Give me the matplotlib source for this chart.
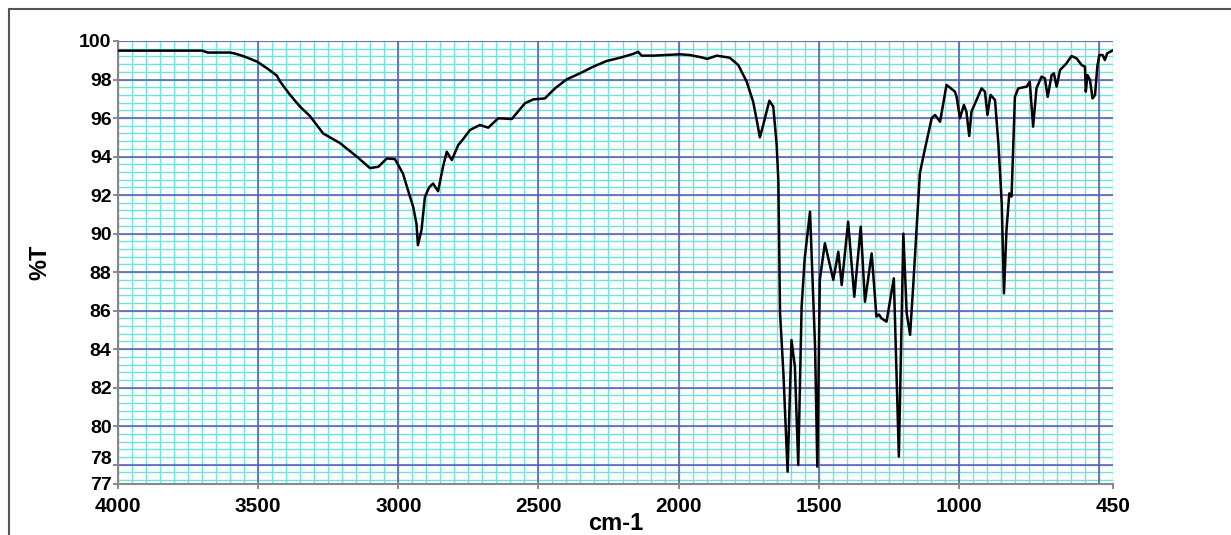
import matplotlib
matplotlib.use("Agg")
import matplotlib.pyplot as plt
from matplotlib.lines import Line2D
from matplotlib.transforms import ScaledTranslation
import numpy as np

plt.rcParams['font.family'] = ['Liberation Sans', 'DejaVu Sans']

# wavenumber (cm-1) and transmittance (%T)
wavenumber = [4000, 3900, 3800, 3700, 3690, 3680, 3600, 3583, 3550, 3504,
              3470, 3433, 3422, 3386, 3351, 3315, 3268, 3208, 3148, 3101,
              3071, 3041, 3012, 2994, 2983, 2960, 2947, 2935, 2930, 2917,
              2905, 2890, 2876, 2858, 2840, 2827, 2809, 2786, 2769, 2744,
              2709, 2679, 2643, 2595, 2548, 2518, 2477, 2441, 2399, 2352,
              2304, 2257, 2209, 2162, 2144, 2132, 2090, 1995, 1959, 1918,
              1898, 1864, 1817, 1787, 1757, 1734, 1720, 1710, 1698, 1676,
              1662, 1650, 1644, 1638, 1626, 1611, 1597, 1585, 1573, 1561,
              1550, 1531, 1513, 1505, 1496, 1478, 1448, 1430, 1418, 1395,
              1373, 1350, 1335, 1311, 1294, 1285, 1276, 1258, 1232, 1214,
              1198, 1186, 1174, 1163, 1151, 1139, 1127, 1097, 1085, 1067,
              1044, 1014, 1008, 996, 982, 973, 963, 955, 919, 907,
              898, 887, 871, 859, 847, 839, 830, 820, 812, 800,
              788, 758, 747, 735, 723, 705, 693, 683, 669, 661,
              651, 639, 616, 598, 580, 562, 550, 547, 541, 532,
              523, 514, 506, 499, 487, 479, 471, 452]
transmittance = [99.5, 99.5, 99.5, 99.5, 99.45, 99.4, 99.4, 99.35, 99.2, 98.93,
                 98.6, 98.2, 97.9, 97.2, 96.6, 96.1, 95.2, 94.7, 94.0, 93.4,
                 93.47, 93.9, 93.87, 93.4, 93.1, 92.0, 91.4, 90.5, 89.4, 90.2,
                 91.9, 92.4, 92.6, 92.2, 93.5, 94.25, 93.82, 94.6, 94.9, 95.38,
                 95.64, 95.5, 95.99, 95.95, 96.77, 96.97, 97.02, 97.54, 98.01, 98.32,
                 98.67, 98.96, 99.13, 99.33, 99.44, 99.24, 99.24, 99.31, 99.27, 99.15,
                 99.07, 99.24, 99.13, 98.75, 97.89, 96.85, 95.81, 95.0, 95.64, 96.9,
                 96.59, 94.6, 92.78, 85.9, 82.76, 77.64, 84.47, 83.09, 77.99, 86.2,
                 88.7, 91.14, 84.13, 77.9, 87.6, 89.5, 87.6, 89.06, 87.33, 90.62,
                 86.72, 90.36, 86.46, 88.97, 85.69, 85.8, 85.6, 85.43, 87.68, 78.42,
                 90.0, 85.86, 84.74, 87.25, 90.19, 93.13, 93.99, 95.99, 96.16, 95.81,
                 97.72, 97.37, 97.1, 95.99, 96.68, 96.33, 95.07, 96.33, 97.54, 97.37,
                 96.16, 97.2, 96.94, 94.69, 91.57, 86.9, 90.19, 92.09, 91.92, 97.1,
                 97.54, 97.63, 97.89, 95.55, 97.54, 98.15, 98.06, 97.1, 98.23, 98.32,
                 97.63, 98.49, 98.84, 99.22, 99.1, 98.75, 98.67, 97.37, 98.23, 97.97,
                 97.02, 97.2, 98.67, 99.27, 99.27, 99.01, 99.36, 99.5]

x_ticks = [4000, 3500, 3000, 2500, 2000, 1500, 1000, 450]
y_ticks = [100, 98, 96, 94, 92, 90, 88, 86, 84, 82, 80, 78, 77]

cyan = "#6fe3dc"
purple = "#5b55b5"

fig = plt.figure(figsize=(12.31, 5.35), dpi=100)
ax = fig.add_axes([118 / 1231, 51 / 535, 995 / 1231, 443 / 535])

# chart-paper grid
for xv in np.arange(450, 4001, 50):
    ax.axvline(xv, color=cyan, lw=1.0, zorder=1)
for yv in np.arange(77.2, 100.01, 0.4):
    ax.axhline(yv, color=cyan, lw=1.0, zorder=1)
for xv in range(500, 4000, 500):
    ax.axvline(xv, color=purple, lw=1.1, zorder=2)
for yv in range(78, 101, 2):
    ax.axhline(yv, color=purple, lw=1.1, zorder=2)

ax.plot(wavenumber, transmittance, color="black", lw=1.8, zorder=3)

ax.set_xlim(4000, 450)
ax.set_ylim(77, 100)
ax.set_xticks(x_ticks)
ax.set_xticklabels([str(v) for v in x_ticks], fontsize=15, fontweight="bold")
ax.set_yticks(y_ticks)
ax.set_yticklabels([str(v) for v in y_ticks], fontsize=14, fontweight="bold")
ax.tick_params(axis="both", color="#777777", length=3.6, width=1.2, pad=1)
ax.tick_params(axis="x", pad=6)

# nudge the crowded 78 label up, away from 77
labels = ax.get_yticklabels()
labels[-2].set_transform(labels[-2].get_transform() + ScaledTranslation(0, 5 / 72, fig.dpi_scale_trans))

ax.spines["top"].set_visible(False)
ax.spines["right"].set_visible(False)
ax.spines["left"].set_color("#888888")
ax.spines["bottom"].set_color("#888888")
ax.spines["left"].set_linewidth(1.5)
ax.spines["bottom"].set_linewidth(1.5)

ax.set_xlabel("cm-1", fontsize=17, fontweight="bold", labelpad=-3)
ax.set_ylabel("%T", fontsize=17, fontweight="bold", labelpad=20)

# outer frame
fig.add_artist(Line2D([9 / 1231, 9 / 1231], [0, 1 - 9 / 535], transform=fig.transFigure,
                      color="#555555", lw=1.5))
fig.add_artist(Line2D([9 / 1231, 1], [1 - 9 / 535, 1 - 9 / 535], transform=fig.transFigure,
                      color="#555555", lw=1.5))

fig.savefig("out.png", dpi=100)
